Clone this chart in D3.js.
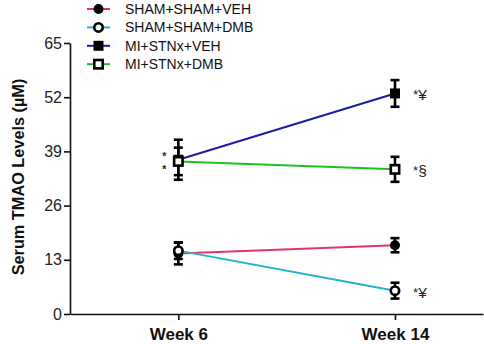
<!DOCTYPE html>
<html>
<head>
<meta charset="utf-8">
<script src="https://cdn.jsdelivr.net/npm/d3@7"></script>
<style>
  body { margin: 0; background: #fff; }
  svg { display: block; font-family: "Liberation Sans", Arial, sans-serif; }
</style>
</head>
<body>
<div id="chart"></div>
<script>
// data
const weeks = [6, 14];
const groups = ["SHAM+SHAM+VEH", "SHAM+SHAM+DMB", "MI+STNx+VEH", "MI+STNx+DMB"];
const colors = ["#e4336c", "#22b4c8", "#1c1c9e", "#20c020"];
const markers = ["circle", "circle", "square", "square"];
const filled = [true, false, true, false];
const means = [[14.5, 16.5], [15.2, 5.6], [37.0, 52.9], [36.6, 34.7]];
const errors = [[2.6, 1.7], [2.0, 1.9], [4.8, 3.2], [3.3, 3.0]];
const yTicks = [0, 13, 26, 39, 52, 65];
// significance marks: [week, value, label]
const notes = [[14, 52.9, "¥"], [14, 34.7, "§"], [14, 5.6, "¥"]];
const w6Stars = [38.6, 35.4];

const width = 484, height = 344;

const svg = d3.select("#chart").append("svg")
    .attr("width", width)
    .attr("height", height);

const x = d3.scaleLinear().domain([2, 17.25]).range([70, 483]);
const y = d3.scaleLinear().domain([0, 65]).range([314, 43]);

// y axis
const yAxis = svg.append("g")
    .attr("transform", "translate(" + x(2) + ",0)")
    .call(d3.axisLeft(y).tickValues(yTicks).tickSize(6).tickSizeOuter(0).tickPadding(2));
yAxis.selectAll("text").attr("font-size", 16).attr("fill", "#222").attr("font-family", null);
yAxis.selectAll("line, path").attr("stroke", "#111").attr("stroke-width", 1.6);

// x axis
const xAxis = svg.append("g")
    .attr("transform", "translate(0," + y(0) + ")")
    .call(d3.axisBottom(x).tickValues(weeks).tickFormat(d => "Week " + d)
        .tickSize(6).tickSizeOuter(0).tickPadding(8));
xAxis.selectAll("text").attr("font-size", 17).attr("font-weight", "bold")
    .attr("fill", "#111").attr("font-family", null);
xAxis.selectAll("line, path").attr("stroke", "#111").attr("stroke-width", 1.6);

// y title
svg.append("text")
    .attr("transform", "translate(24," + 177 + ") rotate(-90)")
    .attr("text-anchor", "middle")
    .attr("font-size", 16.3)
    .attr("font-weight", "bold")
    .attr("fill", "#111")
    .text("Serum TMAO Levels (µM)");

const line = d3.line().x((d, i) => x(weeks[i])).y(d => y(d));

// lines
groups.forEach((g, k) => {
    svg.append("path")
        .datum(means[k])
        .attr("d", line)
        .attr("fill", "none")
        .attr("stroke", colors[k])
        .attr("stroke-width", 2);
});

// error bars
groups.forEach((g, k) => {
    weeks.forEach((wk, i) => {
        const cx = x(wk), lo = y(means[k][i] - errors[k][i]), hi = y(means[k][i] + errors[k][i]);
        const eb = svg.append("g").attr("stroke", "#000").attr("stroke-width", 2.6);
        eb.append("line").attr("x1", cx).attr("x2", cx).attr("y1", lo).attr("y2", hi);
        eb.append("line").attr("x1", cx - 4.5).attr("x2", cx + 4.5).attr("y1", lo).attr("y2", lo);
        eb.append("line").attr("x1", cx - 4.5).attr("x2", cx + 4.5).attr("y1", hi).attr("y2", hi);
    });
});

function drawMarker(sel, k, cx, cy) {
    if (markers[k] === "circle") {
        sel.append("circle")
            .attr("cx", cx).attr("cy", cy)
            .attr("r", filled[k] ? 5 : 4.2)
            .attr("fill", filled[k] ? "#000" : "#fff")
            .attr("stroke", "#000")
            .attr("stroke-width", filled[k] ? 0 : 2.6);
    } else {
        const s = filled[k] ? 10 : 8.4;
        sel.append("rect")
            .attr("x", cx - s / 2).attr("y", cy - s / 2)
            .attr("width", s).attr("height", s)
            .attr("fill", filled[k] ? "#000" : "#fff")
            .attr("stroke", "#000")
            .attr("stroke-width", filled[k] ? 0 : 2.6);
    }
}

// markers
groups.forEach((g, k) => {
    weeks.forEach((wk, i) => drawMarker(svg, k, x(wk), y(means[k][i])));
});

// significance marks
notes.forEach(n => {
    const t = svg.append("text")
        .attr("x", x(n[0]) + 18)
        .attr("y", y(n[1]) + 7)
        .attr("font-size", 15.5)
        .attr("fill", "#222");
    t.append("tspan").attr("font-size", 13.5).attr("dy", -1).text("*");
    t.append("tspan").attr("dy", 1).text(n[2]);
});
// the two stacked stars at week 6
w6Stars.forEach(v => {
    svg.append("text")
        .attr("x", x(6) - 14)
        .attr("y", y(v) + 7)
        .attr("font-size", 10.5)
        .attr("font-weight", "bold")
        .attr("text-anchor", "middle")
        .attr("fill", "#222")
        .text("*");
});

// legend
const legend = svg.append("g").attr("transform", "translate(87,9)");
groups.forEach((g, k) => {
    const row = legend.append("g").attr("transform", "translate(0," + (k * 18.4) + ")");
    row.append("line").attr("x1", 0).attr("x2", 23).attr("y1", 0).attr("y2", 0)
        .attr("stroke", colors[k]).attr("stroke-width", 2);
    drawMarker(row, k, 11.5, 0);
    row.append("text")
        .attr("x", 38).attr("y", 0).attr("dy", "0.36em")
        .attr("font-size", 14)
        .attr("fill", "#111")
        .text(g);
});
</script>
</body>
</html>
